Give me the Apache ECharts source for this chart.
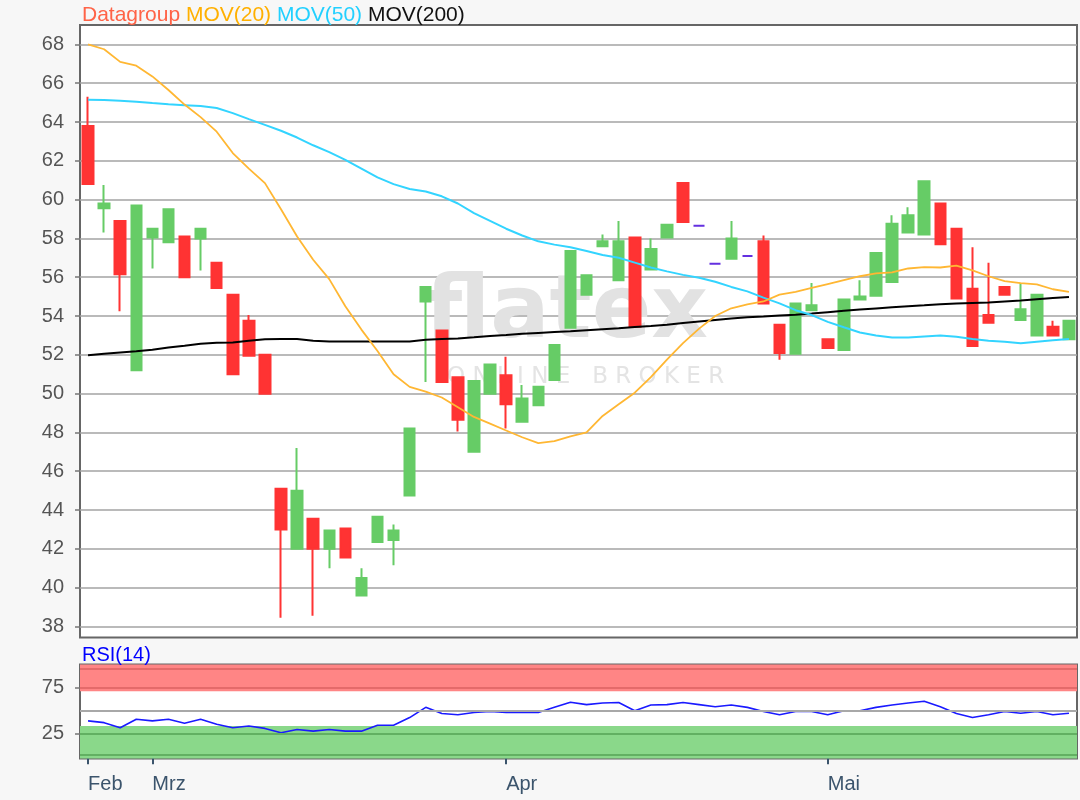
<!DOCTYPE html>
<html>
<head>
<meta charset="utf-8">
<script src="https://cdn.jsdelivr.net/npm/echarts@6.0.0/dist/echarts.min.js"></script>
<style>
html,body{margin:0;padding:0;background:#f7f7f7;}
#chart{width:1080px;height:800px;}
</style>
</head>
<body>
<div id="chart"></div>
<script>
// ---- data ----
const categories = [
  '2020-02-25','2020-02-26','2020-02-27','2020-02-28',
  '2020-03-02','2020-03-03','2020-03-04','2020-03-05','2020-03-06',
  '2020-03-09','2020-03-10','2020-03-11','2020-03-12','2020-03-13',
  '2020-03-16','2020-03-17','2020-03-18','2020-03-19','2020-03-20',
  '2020-03-23','2020-03-24','2020-03-25','2020-03-26','2020-03-27',
  '2020-03-30','2020-03-31',
  '2020-04-01','2020-04-02','2020-04-03',
  '2020-04-06','2020-04-07','2020-04-08','2020-04-09',
  '2020-04-14','2020-04-15','2020-04-16','2020-04-17',
  '2020-04-20','2020-04-21','2020-04-22','2020-04-23','2020-04-24',
  '2020-04-27','2020-04-28','2020-04-29','2020-04-30',
  '2020-05-04','2020-05-05','2020-05-06','2020-05-07','2020-05-08',
  '2020-05-11','2020-05-12','2020-05-13','2020-05-14','2020-05-15',
  '2020-05-18','2020-05-19','2020-05-20','2020-05-21','2020-05-22',
  '2020-05-25'
];
const monthLabels = {'02':'Feb','03':'Mrz','04':'Apr','05':'Mai'};

const opens  = [63.8,59.55,58.9,51.2,58.05,57.8,58.1,58.0,56.75,55.1,53.75,52.0,45.1,42.0,43.55,42.0,43.05,39.6,42.35,42.45,44.75,54.75,53.25,50.85,47.0,50.0,50.95,48.55,49.4,50.7,53.4,55.1,57.6,55.85,58.05,56.4,58.05,60.85,58.65,56.7,56.95,57.1,57.85,53.55,52.05,54.3,52.8,52.25,54.85,55.05,55.75,58.3,58.2,59.8,58.5,55.4,54.05,55.5,53.8,53.0,53.45,52.8];
const closes = [60.8,59.8,56.15,59.7,58.5,59.5,56.0,58.5,55.45,51.0,51.95,50.0,43.0,45.0,42.0,42.95,41.55,40.5,43.65,42.95,48.2,55.5,50.6,48.65,50.65,51.5,49.45,49.75,50.35,52.5,57.35,56.1,57.85,57.85,53.45,57.45,58.7,58.85,58.65,56.7,58.0,57.1,54.65,52.1,54.65,54.55,52.35,54.85,55.0,57.25,58.75,59.2,60.95,57.7,54.9,52.45,53.65,55.1,54.35,55.1,53.0,53.75];
const lows   = [60.8,58.3,54.25,51.2,56.45,57.8,56.0,56.35,55.45,51.0,51.95,50.0,38.45,42.0,38.55,41.0,41.55,39.6,42.35,41.15,44.75,50.6,50.6,48.05,47.0,50.0,48.2,48.55,49.4,50.7,53.4,55.1,57.6,55.85,53.45,56.4,58.05,58.85,58.65,56.7,56.95,57.1,54.65,51.75,52.05,54.3,52.35,52.25,54.85,55.05,55.75,58.3,58.2,57.7,54.9,52.45,53.65,55.1,53.8,53.0,53.0,52.8];
const highs  = [65.3,60.75,58.9,59.7,58.5,59.5,58.1,58.5,56.75,55.1,54.05,52.0,45.1,47.2,43.55,42.95,43.05,41.0,43.65,43.25,48.2,55.5,53.25,50.85,50.65,51.5,51.9,50.45,50.35,52.5,57.35,56.1,58.2,58.9,58.05,58.0,58.7,60.85,58.65,56.7,58.9,57.1,58.15,53.55,54.65,55.7,52.8,54.85,55.85,57.25,59.2,59.6,60.95,59.8,58.5,57.55,56.75,55.5,55.7,55.1,53.75,53.75];

const mov20  = [68.0,67.75,67.1,66.9,66.35,65.65,64.9,64.25,63.5,62.4,61.6,60.85,59.5,58.1,56.9,55.9,54.5,53.3,52.2,51.0,50.35,50.1,49.8,49.3,48.8,48.45,48.1,47.75,47.45,47.55,47.8,48.0,48.85,49.45,50.05,50.85,51.75,52.6,53.35,54.0,54.4,54.6,54.75,55.1,55.25,55.45,55.65,55.85,56.05,56.2,56.25,56.45,56.52,56.5,56.6,56.35,56.05,55.8,55.7,55.63,55.38,55.24];
const mov50  = [65.15,65.13,65.1,65.05,64.98,64.92,64.87,64.82,64.72,64.46,64.15,63.85,63.55,63.2,62.8,62.45,62.05,61.6,61.15,60.8,60.55,60.42,60.17,59.8,59.3,58.9,58.5,58.15,57.85,57.68,57.54,57.35,57.15,57.0,56.75,56.5,56.3,56.12,55.97,55.77,55.5,55.27,54.95,54.65,54.3,54.05,53.7,53.42,53.15,53.0,52.89,52.89,52.95,53.0,52.93,52.81,52.73,52.68,52.6,52.68,52.75,52.81];
const mov200 = [51.98,52.05,52.12,52.18,52.26,52.38,52.47,52.57,52.62,52.64,52.72,52.8,52.81,52.81,52.72,52.69,52.69,52.69,52.69,52.69,52.69,52.78,52.81,52.84,52.9,52.97,53.02,53.08,53.13,53.18,53.22,53.27,53.32,53.37,53.43,53.48,53.55,53.64,53.72,53.8,53.87,53.94,53.98,54.03,54.07,54.13,54.2,54.27,54.33,54.39,54.45,54.5,54.55,54.61,54.64,54.67,54.7,54.75,54.8,54.87,54.93,54.98];
const rsi14  = [38.9,36.9,31.4,40.7,38.9,40.7,36.3,40.7,35.1,31.4,33.2,30.6,25.8,29.4,27.6,29.4,27.6,27.6,34.0,34.0,42.5,53.7,47.0,45.5,48.1,49.2,48.1,48.1,48.1,53.7,59.3,56.7,58.5,59.0,50.0,56.3,56.7,59.0,56.7,54.4,56.3,53.7,49.2,45.5,49.2,49.2,45.5,50.0,50.0,53.7,56.3,58.5,60.4,54.4,47.0,42.5,45.5,49.2,47.3,49.2,45.5,47.3];

const priceTicks = [38,40,42,44,46,48,50,52,54,56,58,60,62,64,66,68];
const rsiTicks = [25,75];

// ---- build ----
const candleData = opens.map((o,i)=>[o, closes[i], lows[i], highs[i]]);
const monthOf = i => categories[i].slice(5,7);
const isMonthStart = i => i === 0 || monthOf(i) !== monthOf(i-1);

const FONT = 'Liberation Sans, Arial, sans-serif';
const chart = echarts.init(document.getElementById('chart'), null, {renderer:'canvas'});

chart.setOption({
  animation: false,
  backgroundColor: '#f7f7f7',
  title: [
    {
      left: 77, top: 0,
      text: '{a|Datagroup} {b|MOV(20)} {c|MOV(50)} {d|MOV(200)}',
      textStyle: {
        fontSize: 21, fontWeight: 'normal', fontFamily: FONT,
        rich: {
          a: {color:'#ff6347', fontSize:21, fontFamily:FONT},
          b: {color:'#ffb000', fontSize:21, fontFamily:FONT},
          c: {color:'#22d0ff', fontSize:21, fontFamily:FONT},
          d: {color:'#111111', fontSize:21, fontFamily:FONT}
        }
      }
    },
    {
      left: 77, top: 640,
      text: 'RSI(14)',
      textStyle: {fontSize: 20, fontWeight: 'normal', fontFamily: FONT, color: '#0000ff'}
    }
  ],
  graphic: [
    {type:'text', left: 425, top: 270, z: 1, silent: true,
     style:{text:'flatex', font:'bold 88px "DejaVu Sans"', fill:'#e2e2e2'}},
    {type:'text', left: 447, top: 366, z: 1, silent: true,
     style:{text:'O N L I N E   B R O K E R', font:'23px "DejaVu Sans"', fill:'#e4e4e4'}}
  ],
  grid: [
    {left: 80, right: 3, top: 25, height: 612.5, show: true, backgroundColor:'#ffffff', borderColor:'#666666', borderWidth: 2},
    {left: 80, right: 3, top: 664.5, height: 94, show: true, backgroundColor:'#ffffff', borderColor:'#666666', borderWidth: 2}
  ],
  xAxis: [
    {type:'category', gridIndex:0, data: categories, boundaryGap: true,
     axisLine:{show:false}, axisTick:{show:false}, axisLabel:{show:false}, splitLine:{show:false}},
    {type:'category', gridIndex:1, data: categories, boundaryGap: true,
     axisLine:{show:false},
     axisTick:{show:true, alignWithLabel:true, interval:(i)=>isMonthStart(i), length:8, lineStyle:{color:'#3b546c', width:2}},
     axisLabel:{show:true, interval:(i)=>isMonthStart(i), formatter:(v)=>monthLabels[v.slice(5,7)],
       align:'left', margin:16, color:'#3b546c', fontSize:20, fontFamily:FONT},
     splitLine:{show:false}}
  ],
  yAxis: [
    {type:'value', gridIndex:0, min: 37.43, max: 69.0,
     axisLine:{show:false},
     axisTick:{show:true, customValues: priceTicks, length:5, lineStyle:{color:'#777777', width:1.5}},
     axisLabel:{show:true, customValues: priceTicks, margin:16, color:'#555555', fontSize:20, fontFamily:FONT},
     splitLine:{show:true, lineStyle:{color:'#a3a3a3', width:1.5}}},
    {type:'value', gridIndex:1, min: -2.4, max: 100.7,
     axisLine:{show:false},
     axisTick:{show:true, customValues: rsiTicks, length:5, lineStyle:{color:'#777777', width:1.5}},
     axisLabel:{show:true, customValues: rsiTicks, margin:16, color:'#555555', fontSize:20, fontFamily:FONT},
     splitLine:{show:false}}
  ],
  series: [
    {
      name:'Datagroup', type:'candlestick', xAxisIndex:0, yAxisIndex:0,
      data: candleData, barWidth: 11, z: 2,
      itemStyle: {
        color:'#66cc66', color0:'#ff3333',
        borderColor:'#66cc66', borderColor0:'#ff3333', borderColorDoji:'#6430e0',
        borderWidth: 2
      }
    },
    {name:'MOV(200)', type:'line', xAxisIndex:0, yAxisIndex:0, data: mov200, showSymbol:false, symbol:'none',
     lineStyle:{color:'#000000', width:2}, z:3},
    {name:'MOV(50)', type:'line', xAxisIndex:0, yAxisIndex:0, data: mov50, showSymbol:false, symbol:'none',
     lineStyle:{color:'#33d4ff', width:2}, z:3},
    {name:'MOV(20)', type:'line', xAxisIndex:0, yAxisIndex:0, data: mov20, showSymbol:false, symbol:'none',
     lineStyle:{color:'#ffb733', width:1.8}, z:3},
    {name:'RSI(14)', type:'line', xAxisIndex:1, yAxisIndex:1, data: rsi14, showSymbol:false, symbol:'none',
     lineStyle:{color:'#1a1aff', width:1.6}, z:3,
     markArea:{silent:true, data:[
       [{yAxis:71.4, itemStyle:{color:'#ff8585'}},{yAxis:100.7}],
       [{yAxis:-2.4, itemStyle:{color:'#8ad88a'}},{yAxis:33.3}]
     ]},
     markLine:{silent:true, symbol:'none', label:{show:false}, data:[
       {yAxis:95.5, lineStyle:{color:'#e46a6a', width:2, type:'solid'}},
       {yAxis:75, lineStyle:{color:'#e46a6a', width:2, type:'solid'}},
       {yAxis:50, lineStyle:{color:'#a8a8a8', width:2, type:'solid'}},
       {yAxis:25, lineStyle:{color:'#62b062', width:2, type:'solid'}},
       {yAxis:2, lineStyle:{color:'#62b062', width:2, type:'solid'}}
     ]}
    }
  ]
});
</script>
</body>
</html>
